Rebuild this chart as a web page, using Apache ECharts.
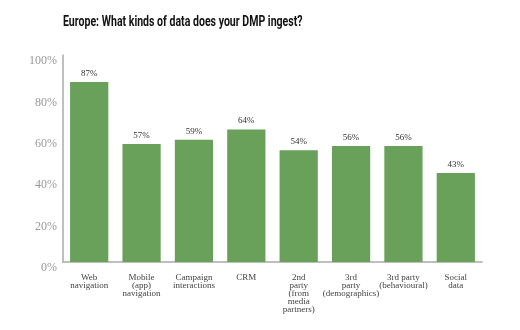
<!DOCTYPE html>
<html><head><meta charset="utf-8">
<script src="https://cdn.jsdelivr.net/npm/echarts@6/dist/echarts.min.js"></script>
<style>html,body{margin:0;padding:0;background:#fff}#c{width:520px;height:330px}</style>
</head><body><div id="c"></div>
<script>
const title = "Europe: What kinds of data does your DMP ingest?";
const categories = ["Web\nnavigation","Mobile\n(app)\nnavigation","Campaign\ninteractions","CRM","2nd\nparty\n(from\nmedia\npartners)","3rd\nparty\n(demographics)","3rd party\n(behavioural)","Social\ndata"];
const values = [87,57,59,64,54,56,56,43];
const yTicks = [0,20,40,60,80,100];

const chart = echarts.init(document.getElementById('c'), null, {renderer:'canvas'});
chart.setOption({
  animation:false,
  graphic:[{type:'text',left:63,top:15,scaleX:0.755,
    style:{text:title,font:'bold 14px Roboto, "Liberation Sans", sans-serif',fill:'#111'}}],
  grid:{left:63,right:38,top:55,bottom:68},
  xAxis:{type:'category',data:categories,
    axisLine:{lineStyle:{color:'#aaa',width:1.5}},axisTick:{show:false},
    axisLabel:{interval:0,fontFamily:'"Liberation Serif",serif',fontSize:9,lineHeight:8,color:'#444',margin:12}},
  yAxis:{type:'value',min:0,max:100,interval:20,
    axisLine:{show:true,lineStyle:{color:'#aaa',width:1.5}},axisTick:{show:false},splitLine:{show:false},
    axisLabel:{formatter:v=>yTicks.includes(v)?v+'%':'',fontFamily:'"Liberation Serif",serif',fontSize:12,color:'#999',margin:6,verticalAlign:'top'}},
  series:[{type:'bar',data:values,barCategoryGap:'27%',itemStyle:{color:'#69a15a'},
    label:{show:true,position:'top',distance:4,formatter:p=>p.value+'%',fontFamily:'"Liberation Serif",serif',fontSize:9,color:'#333'}}]
});
</script></body></html>
